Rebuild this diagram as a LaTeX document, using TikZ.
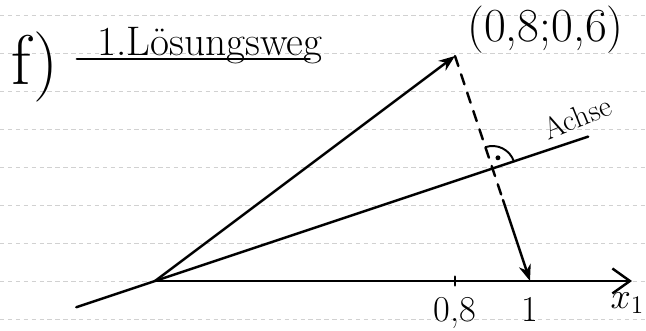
\documentclass[tikz,border=0pt]{standalone}
\usepackage{tikz}
\usetikzlibrary{
  positioning,
  arrows.meta,
  calc
}

\begin{document}
\begin{tikzpicture}[
  x=7.5cm, y=7.5cm,
  >=Stealth,
  sketch/.style={line width=1.4pt, line cap=round},
  ruled/.style={black!18, line width=0.5pt, dash pattern=on 2.5pt off 2pt},
  handlabel/.style={font=\huge, inner sep=0pt}
]
\useasboundingbox (-0.4133,-0.1333) rectangle (1.3093,0.7493);

% ruled paper
\foreach \k in {-1,...,7}
  \draw[ruled] (-0.4133,\k*0.1013) -- (1.3093,\k*0.1013);

\coordinate (O) at (0,0);
\coordinate (P) at (0.8,0.6);
\coordinate (Q) at (1,0);
\coordinate (F) at (0.9,0.3);
\coordinate (M) at ($(P)!0.64!(Q)$);
\coordinate (t08) at (0.8,0);
\coordinate (achsestart) at (-0.21,-0.07);
\coordinate (achseend) at (1.155,0.385);
\coordinate (xend) at (1.272,0);

% lines
\draw[sketch] (achsestart) -- (achseend);
\draw[sketch, -{Straight Barb[length=3.5mm,width=5mm]}] (O) -- (xend);
\draw[sketch, ->] (O) -- (P);
\draw[sketch, dash pattern=on 6pt off 5pt] (P) -- (M);
\draw[sketch, ->] (M) -- (Q);
\draw[sketch] ([yshift=-2.5pt]t08) -- ([yshift=2.5pt]t08);

% right angle
\draw[sketch, line width=1.1pt] ($(F)+(108.4:0.06)$) arc[start angle=108.4, end angle=18.4, radius=0.06];
\fill ($(F)+(63:0.032)$) circle[radius=1.4pt];

% labels
\node[handlabel, font=\fontsize{23.5}{24}\selectfont, anchor=base west] (title) at (-0.155,0.602) {1.Lösungsweg};
\draw[sketch] ([xshift=-0.4cm, yshift=-2pt]title.base west) -- ([xshift=-0.26cm, yshift=-2pt]title.base east);
\node[handlabel, font=\fontsize{40}{40}\selectfont] (part) at (-0.32,0.57) {f)};
\node[handlabel, font=\fontsize{27}{27}\selectfont, above right=0.04cm and 0.24cm of P] (plabel) {(0,8;0,6)};
\node[handlabel, font=\LARGE, rotate=22] (achse) at (1.125,0.437) {Achse};
\node[handlabel, below=0.32cm of t08] (l08) {0,8};
\node[handlabel, below=0.32cm of Q] (l1) {1};
\node[handlabel, font=\fontsize{22}{22}\selectfont, below left=0.22cm and -0.25cm of xend] (lx) {$x_1$};

\end{tikzpicture}
\end{document}
